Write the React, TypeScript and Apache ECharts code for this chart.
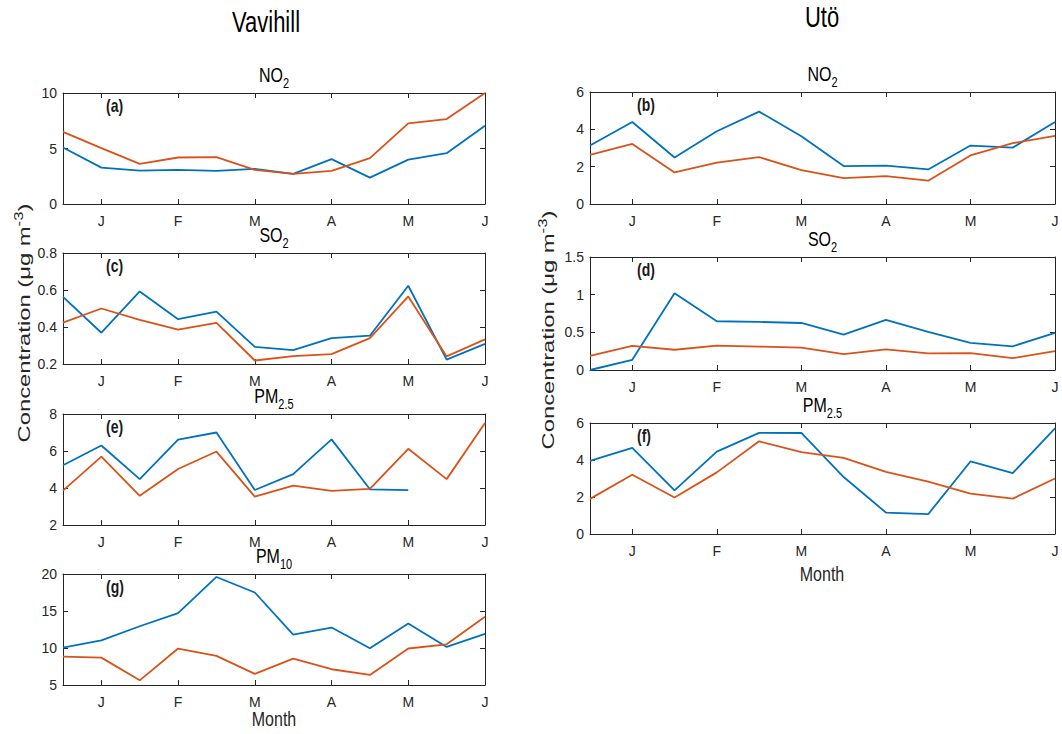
import React, { useEffect, useRef } from "react";
import * as echarts from "echarts";

const FONT = "'Liberation Sans', Arial, Helvetica, sans-serif";
const BLUE = "#0072BD";
const ORANGE = "#D95319";
const AXIS = "#262626";

const categories = ["Dec 15", "Jan 1", "Jan 15", "Feb 1", "Feb 15", "Mar 1", "Mar 15", "Apr 1", "Apr 15", "May 1", "May 15", "Jun 1"];
const monthTickLabels = ["J", "F", "M", "A", "M", "J"];

const vavNO2Blue = [5.09, 3.28, 3.01, 3.07, 2.98, 3.16, 2.71, 4.04, 2.38, 4.0, 4.58, 7.05];
const vavNO2Orange = [6.5, 5.03, 3.61, 4.19, 4.22, 3.07, 2.71, 2.98, 4.13, 7.26, 7.65, 10.0];
const vavSO2Blue = [0.563, 0.369, 0.592, 0.442, 0.483, 0.293, 0.275, 0.34, 0.353, 0.623, 0.224, 0.309];
const vavSO2Orange = [0.424, 0.5, 0.438, 0.386, 0.422, 0.219, 0.243, 0.253, 0.34, 0.565, 0.241, 0.333];
const vavPM25Blue = [5.23, 6.3, 4.48, 6.61, 7.0, 3.89, 4.75, 6.63, 3.93, 3.89, null, null];
const vavPM25Orange = [3.86, 5.7, 3.58, 5.03, 5.97, 3.53, 4.13, 3.84, 3.95, 6.12, 4.48, 7.51];
const vavPM10Blue = [10.05, 11.04, 12.94, 14.7, 19.6, 17.5, 11.8, 12.76, 9.96, 13.3, 10.14, 11.9];
const vavPM10Orange = [8.83, 8.7, 5.63, 9.93, 8.94, 6.5, 8.57, 7.13, 6.36, 9.93, 10.5, 14.22];
const utoNO2Blue = [3.13, 4.39, 2.49, 3.9, 4.95, 3.63, 2.03, 2.06, 1.85, 3.13, 3.02, 4.39];
const utoNO2Orange = [2.63, 3.22, 1.69, 2.22, 2.51, 1.81, 1.39, 1.49, 1.25, 2.6, 3.26, 3.65];
const utoSO2Blue = [0, 0.135, 1.02, 0.647, 0.638, 0.624, 0.47, 0.665, 0.507, 0.36, 0.314, 0.494];
const utoSO2Orange = [0.189, 0.319, 0.269, 0.323, 0.31, 0.296, 0.211, 0.274, 0.22, 0.225, 0.157, 0.251];
const utoPM25Blue = [3.95, 4.65, 2.36, 4.45, 5.47, 5.46, 3.08, 1.16, 1.07, 3.92, 3.29, 5.71];
const utoPM25Orange = [1.9, 3.2, 1.97, 3.33, 5.01, 4.42, 4.11, 3.36, 2.83, 2.18, 1.91, 3.0];

type Panel = {
  letter: string;
  title: string;
  left: number;
  top: number;
  width: number;
  height: number;
  min: number;
  max: number;
  interval: number;
  blue: (number | null)[];
  orange: (number | null)[];
};

const LEFT_X = 63, LEFT_W = 422;
const RIGHT_X = 590, RIGHT_W = 465;
const STRETCH = 1.25;

const panels: Panel[] = [
  { letter: "(a)", title: "{m|NO}{s|2}", left: LEFT_X, top: 93, width: LEFT_W, height: 111, min: 0, max: 10, interval: 5, blue: vavNO2Blue, orange: vavNO2Orange },
  { letter: "(c)", title: "{m|SO}{s|2}", left: LEFT_X, top: 253, width: LEFT_W, height: 111, min: 0.2, max: 0.8, interval: 0.2, blue: vavSO2Blue, orange: vavSO2Orange },
  { letter: "(e)", title: "{m|PM}{s|2.5}", left: LEFT_X, top: 414, width: LEFT_W, height: 111, min: 2, max: 8, interval: 2, blue: vavPM25Blue, orange: vavPM25Orange },
  { letter: "(g)", title: "{m|PM}{s|10}", left: LEFT_X, top: 574, width: LEFT_W, height: 111, min: 5, max: 20, interval: 5, blue: vavPM10Blue, orange: vavPM10Orange },
  { letter: "(b)", title: "{m|NO}{s|2}", left: RIGHT_X, top: 92, width: RIGHT_W, height: 112, min: 0, max: 6, interval: 2, blue: utoNO2Blue, orange: utoNO2Orange },
  { letter: "(d)", title: "{m|SO}{s|2}", left: RIGHT_X, top: 257, width: RIGHT_W, height: 113, min: 0, max: 1.5, interval: 0.5, blue: utoSO2Blue, orange: utoSO2Orange },
  { letter: "(f)", title: "{m|PM}{s|2.5}", left: RIGHT_X, top: 423, width: RIGHT_W, height: 111, min: 0, max: 6, interval: 2, blue: utoPM25Blue, orange: utoPM25Orange },
];

const oddOnly = (idx: number) => idx % 2 === 1;

function buildOption() {
  const grid: any[] = [];
  const xAxis: any[] = [];
  const yAxis: any[] = [];
  const series: any[] = [];
  const graphic: any[] = [];
  const lineStyle = { color: AXIS, width: 1 };

  panels.forEach((p, i) => {
    grid.push({ left: p.left, top: p.top, width: p.width, height: p.height, containLabel: false });
    const baseX = {
      type: "category",
      gridIndex: i,
      data: categories,
      boundaryGap: false,
      axisLine: { show: true, onZero: false, lineStyle },
      splitLine: { show: false },
      axisTick: { show: true, inside: true, length: 5, interval: oddOnly, lineStyle },
    };
    xAxis.push({
      ...baseX,
      position: "bottom",
      axisLabel: {
        show: true,
        interval: oddOnly,
        formatter: (_v: string, idx: number) => monthTickLabels[(idx - 1) / 2] ?? "",
        fontSize: 14,
        fontFamily: FONT,
        color: AXIS,
        margin: 10,
      },
    });
    xAxis.push({ ...baseX, position: "top", axisLabel: { show: false } });
    const baseY = {
      type: "value",
      gridIndex: i,
      min: p.min,
      max: p.max,
      interval: p.interval,
      axisLine: { show: true, onZero: false, lineStyle },
      splitLine: { show: false },
      axisTick: { show: true, inside: true, length: 5, lineStyle },
    };
    yAxis.push({
      ...baseY,
      position: "left",
      axisLabel: { show: true, fontSize: 14, fontFamily: FONT, color: AXIS, margin: 6 },
    });
    yAxis.push({ ...baseY, position: "right", axisLabel: { show: false } });

    series.push({
      type: "line",
      xAxisIndex: 2 * i,
      yAxisIndex: 2 * i,
      data: p.blue,
      symbol: "none",
      showSymbol: false,
      connectNulls: false,
      color: BLUE,
      lineStyle: { color: BLUE, width: 1.8 },
      clip: true,
    });
    series.push({
      type: "line",
      xAxisIndex: 2 * i,
      yAxisIndex: 2 * i,
      data: p.orange,
      symbol: "none",
      showSymbol: false,
      connectNulls: false,
      color: ORANGE,
      lineStyle: { color: ORANGE, width: 1.8 },
      clip: true,
    });

    graphic.push({
      type: "text",
      x: p.left + p.width / 2,
      y: p.top - 18,
      scaleY: STRETCH,
      style: {
        text: p.title,
        align: "center",
        verticalAlign: "middle",
        rich: {
          m: { fontSize: 16, fontFamily: FONT, fill: "#000", lineHeight: 25 },
          s: { fontSize: 11, fontFamily: FONT, fill: "#000", lineHeight: 11, verticalAlign: "bottom" },
        },
      },
    });
    graphic.push({
      type: "text",
      x: p.left + (i < 4 ? 43 : 47),
      y: p.top + 13,
      scaleY: STRETCH,
      style: {
        text: p.letter,
        fontSize: 14,
        fontWeight: "bold",
        fontFamily: FONT,
        fill: "#1a1a1a",
        align: "left",
        verticalAlign: "middle",
      },
    });
  });

  graphic.push(
    {
      type: "text", x: 266, y: 22, scaleY: 1.3,
      style: { text: "Vavihill", fontSize: 22, fontFamily: FONT, fill: "#000", align: "center", verticalAlign: "middle" },
    },
    {
      type: "text", x: 822, y: 17, scaleY: 1.3,
      style: { text: "Utö", fontSize: 22, fontFamily: FONT, fill: "#000", align: "center", verticalAlign: "middle" },
    },
    {
      type: "text", x: 274, y: 719, scaleY: STRETCH,
      style: { text: "Month", fontSize: 16, fontFamily: FONT, fill: AXIS, align: "center", verticalAlign: "middle" },
    },
    {
      type: "text", x: 822, y: 574, scaleY: STRETCH,
      style: { text: "Month", fontSize: 16, fontFamily: FONT, fill: AXIS, align: "center", verticalAlign: "middle" },
    }
  );

  const yLabel = (x: number, y: number) => ({
    type: "text",
    x,
    y,
    rotation: Math.PI / 2,
    scaleX: 1.4,
    style: {
      text: "{m|Concentration (μg m}{u|-3}{m|)}",
      align: "center",
      verticalAlign: "middle",
      rich: {
        m: { fontSize: 17, fontFamily: FONT, fill: AXIS, lineHeight: 22 },
        u: { fontSize: 12, fontFamily: FONT, fill: AXIS, lineHeight: 12, verticalAlign: "top" },
      },
    },
  });
  graphic.push(yLabel(24, 323), yLabel(548, 330));

  return { animation: false, backgroundColor: "#ffffff", grid, xAxis, yAxis, series, graphic };
}

export default function App() {
  const ref = useRef<HTMLDivElement>(null);
  useEffect(() => {
    if (!ref.current) return;
    const chart = echarts.init(ref.current, undefined, { renderer: "svg" });
    chart.setOption(buildOption() as any);
    return () => chart.dispose();
  }, []);
  return <div ref={ref} style={{ position: "absolute", left: 0, top: 0, width: 1062, height: 734 }} />;
}
